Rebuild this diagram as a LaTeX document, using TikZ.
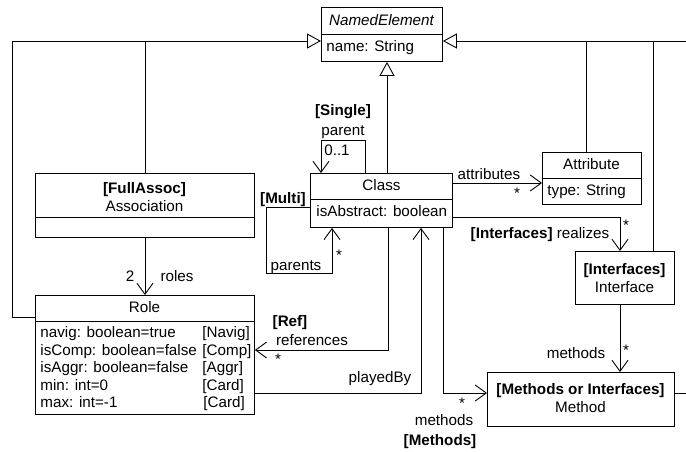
\documentclass[tikz,border=0pt]{standalone}
\usepackage{fontspec}
\setmainfont{Liberation Sans}
\usetikzlibrary{arrows.meta}
\begin{document}
\begin{tikzpicture}[x=1pt,y=-1pt,
  line width=0.9pt,
  every node/.style={font=\fontsize{15.2}{17.5}\selectfont, inner sep=0pt},
  umlbox/.style={draw, anchor=north west},
  lbl/.style={text height=11pt, text depth=3pt},
  attrL/.style={lbl, anchor=west},
  nav/.style={-{Straight Barb[length=11pt,width=16pt]}},
  gen/.style={-{Triangle[open,length=14pt,width=15pt]}},
]
\useasboundingbox (0,0) rectangle (686,451);

% ---------- classes ----------
\node[umlbox, minimum width=121pt, minimum height=54pt] (ne) at (321,7) {};
\draw ([yshift=-27pt]ne.north west) -- ([yshift=-27pt]ne.north east);
\node[lbl] (neT) at (381.5,21) {\itshape NamedElement};
\node[attrL] (neA) at (326,47) {name: String};

\node[umlbox, minimum width=219pt, minimum height=64pt] (assoc) at (35,173) {};
\draw ([yshift=-44pt]assoc.north west) -- ([yshift=-44pt]assoc.north east);
\node[align=center] (assocT) at (144.5,197) {\textbf{[FullAssoc]}\\Association};

\node[umlbox, minimum width=219pt, minimum height=119pt] (role) at (35,295) {};
\draw ([yshift=-26pt]role.north west) -- ([yshift=-26pt]role.north east);
\node[lbl] (roleT) at (144.5,308) {Role};
\node[attrL] (r1a) at (40,333) {navig: boolean=true};
\node[attrL] (r2a) at (40,351) {isComp: boolean=false};
\node[attrL] (r3a) at (40,368) {isAggr: boolean=false};
\node[attrL] (r4a) at (40,386) {min: int=0};
\node[attrL] (r5a) at (40,403) {max: int=-1};
\node[attrL] (r1b) at (202,333) {[Navig]};
\node[attrL] (r2b) at (202,351) {[Comp]};
\node[attrL] (r3b) at (202,368) {[Aggr]};
\node[attrL] (r4b) at (202,386) {[Card]};
\node[attrL] (r5b) at (203,403) {[Card]};

\node[umlbox, minimum width=142pt, minimum height=54pt] (cls) at (310,173) {};
\draw ([yshift=-26pt]cls.north west) -- ([yshift=-26pt]cls.north east);
\node[lbl] (clsT) at (381.5,186) {Class};
\node[attrL] (clsA) at (316,212) {isAbstract: boolean};

\node[umlbox, minimum width=99pt, minimum height=52pt] (attr) at (542,152) {};
\draw ([yshift=-26pt]attr.north west) -- ([yshift=-26pt]attr.north east);
\node[lbl] (attrT) at (591.5,165) {Attribute};
\node[attrL] (attrA) at (547,191) {type: String};

\node[umlbox, minimum width=99pt, minimum height=53pt] (iface) at (575,251) {};
\node[align=center] (ifaceT) at (624.5,278) {\textbf{[Interfaces]}\\Interface};

\node[umlbox, minimum width=187pt, minimum height=54pt] (meth) at (487,372) {};
\node[align=center] (methT) at (580.5,398) {\textbf{[Methods or Interfaces]}\\Method};

% ---------- generalizations ----------
\coordinate (gl) at (12,41);
\coordinate (rl) at (12,317);
\draw[gen] (rl -| role.west) -- (rl) -- (gl) -- (gl -| ne.west);
\draw (assoc.north) -- (assoc.north |- gl);

\coordinate (gr) at (690,41);
\draw[gen] (gr) -- (gr -| ne.east);
\coordinate (av) at (586,41);
\draw (av) -- (av |- attr.north);
\coordinate (iv) at (653,41);
\draw (iv) -- (iv |- iface.north);

\coordinate (cg) at ([xshift=77pt]cls.north west);
\draw[gen] (cg) -- (cg |- ne.south);

% ---------- associations ----------
% [Single] parent
\coordinate (s1) at ([xshift=55pt]cls.north west);
\coordinate (s2) at ([xshift=11pt]cls.north west);
\coordinate (st) at (0,140);
\draw[nav] (s1) -- (s1 |- st) -- (s2 |- st) -- (s2);
\node[lbl] (sgl) at (343,111) {\textbf{[Single]}};
\node[lbl] (par) at (343,131) {parent};
\node[lbl] (par01) at (337,151) {0..1};

% [Multi] parents
\coordinate (m1) at ([yshift=-34pt]cls.north west);
\coordinate (mc) at (266,273);
\coordinate (m2) at ([xshift=22pt]cls.south west);
\draw[nav] (m1) -- (m1 -| mc) -- (mc) -- (mc -| m2) -- (m2);
\node[lbl] (mlt) at (283,199) {\textbf{[Multi]}};
\node[lbl] (pars) at (296,266) {parents};
\node[lbl] (parsM) at (339,256) {*};

% attributes
\coordinate (at1) at ([yshift=-10pt]cls.north east);
\draw[nav] (at1) -- (at1 -| attr.west);
\node[lbl] (atts) at (489,175) {attributes};
\node[lbl] (attsM) at (517,194) {*};

% realizes
\coordinate (rz) at ([yshift=-44pt]cls.north east);
\coordinate (rc) at (620,217);
\draw[nav] (rz) -- (rc) -- (rc |- iface.north);
\node[lbl] (rzL) at (540,234) {\textbf{[Interfaces]} realizes};
\node[lbl] (rzM) at (626,226) {*};

% interface methods
\draw[nav] (rc |- iface.south) -- (rc |- meth.north);
\node[lbl] (imL) at (576,354) {methods};
\node[lbl] (imM) at (626,351) {*};

% class methods
\coordinate (cm) at (443,393);
\draw[nav] (cm |- cls.south) -- (cm) -- (cm -| meth.west);
\node[lbl] (cmM) at (462,404) {*};
\node[lbl] (cmL) at (444,421) {methods};
\node[lbl] (cmT) at (440,441) {\textbf{[Methods]}};
\coordinate (mr) at (690,393);
\draw (cm -| meth.east) -- (mr);

% playedBy
\coordinate (pb) at (421,393);
\draw[nav] (pb -| role.east) -- (pb) -- (pb |- cls.south);
\node[lbl] (pbL) at (380,378) {playedBy};

% references
\coordinate (rf) at (388,350);
\draw[nav] (rf |- cls.south) -- (rf) -- (rf -| role.east);
\node[lbl] (rfT) at (290,322) {\textbf{[Ref]}};
\node[lbl] (rfL) at (312,341) {references};
\node[lbl] (rfM) at (278,360) {*};

% roles
\draw[nav] (assoc.south) -- (role.north);
\node[lbl] (rl2) at (130,277) {2};
\node[lbl] (rlL) at (177,277) {roles};
\end{tikzpicture}
\end{document}
